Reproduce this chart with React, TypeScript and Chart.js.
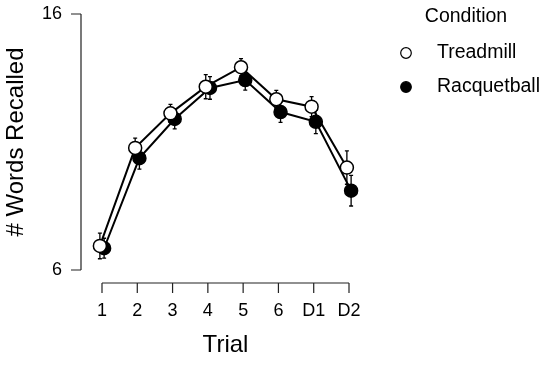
import React, { useEffect, useRef } from 'react';
import { Chart, registerables } from 'chart.js';

Chart.register(...registerables);

const trials = ['1', '2', '3', '4', '5', '6', 'D1', 'D2'];
const treadmill = [6.94, 10.77, 12.12, 13.16, 13.92, 12.67, 12.38, 10.0];
const treadmillErr = [0.5, 0.38, 0.35, 0.47, 0.34, 0.35, 0.39, 0.65];
const racquetball = [6.85, 10.37, 11.9, 13.11, 13.42, 12.17, 11.79, 9.1];
const racquetballErr = [0.39, 0.43, 0.39, 0.44, 0.39, 0.4, 0.46, 0.6];
const yTicks = [6, 16];
const seriesNames = ['Treadmill', 'Racquetball'];
const legendTitle = 'Condition';
const xTitle = 'Trial';
const yTitle = '# Words Recalled';
const dodge = 0.06;

const FONT = "'Liberation Sans', Arial, sans-serif";

const errorBarPlugin = {
  id: 'errorBars',
  beforeDatasetsDraw(chart: any) {
    const ctx = chart.ctx;
    const xs = chart.scales.x;
    const ys = chart.scales.y;
    const errs = [treadmillErr, racquetballErr];
    const vals = [treadmill, racquetball];
    const offs = [-dodge, dodge];
    ctx.save();
    ctx.strokeStyle = '#000';
    ctx.lineWidth = 1.3;
    for (let s = 0; s < 2; s++) {
      for (let i = 0; i < trials.length; i++) {
        const x = xs.getPixelForValue(i + 1 + offs[s]);
        const yt = ys.getPixelForValue(vals[s][i] + errs[s][i]);
        const yb = ys.getPixelForValue(vals[s][i] - errs[s][i]);
        ctx.beginPath();
        ctx.moveTo(x, yt);
        ctx.lineTo(x, yb);
        ctx.moveTo(x - 2, yt);
        ctx.lineTo(x + 2, yt);
        ctx.moveTo(x - 2, yb);
        ctx.lineTo(x + 2, yb);
        ctx.stroke();
      }
    }
    ctx.restore();
  },
};

const axesPlugin = {
  id: 'rAxes',
  afterDraw(chart: any) {
    const ctx = chart.ctx;
    const xs = chart.scales.x;
    const ys = chart.scales.y;
    const ca = chart.chartArea;
    ctx.save();
    ctx.strokeStyle = '#222';
    ctx.lineWidth = 1.2;
    // y axis
    const ax = ca.left - 21;
    const y0 = ys.getPixelForValue(yTicks[0]);
    const y1 = ys.getPixelForValue(yTicks[yTicks.length - 1]);
    ctx.beginPath();
    ctx.moveTo(ax, y0);
    ctx.lineTo(ax, y1);
    yTicks.forEach((v) => {
      const p = ys.getPixelForValue(v);
      ctx.moveTo(ax - 10, p);
      ctx.lineTo(ax, p);
    });
    ctx.stroke();
    // x axis
    const ay = ca.bottom + 13;
    const x0 = xs.getPixelForValue(1);
    const x1 = xs.getPixelForValue(trials.length);
    ctx.beginPath();
    ctx.moveTo(x0, ay);
    ctx.lineTo(x1, ay);
    trials.forEach((_, i) => {
      const p = xs.getPixelForValue(i + 1);
      ctx.moveTo(p, ay);
      ctx.lineTo(p, ay + 10);
    });
    ctx.stroke();
    ctx.restore();
  },
};

const legendPlugin = {
  id: 'rLegend',
  afterDraw(chart: any) {
    const ctx = chart.ctx;
    ctx.save();
    ctx.fillStyle = '#000';
    ctx.font = `19.5px ${FONT}`;
    ctx.textBaseline = 'middle';
    ctx.textAlign = 'center';
    ctx.fillText(legendTitle, 466, 17);
    ctx.textAlign = 'left';
    const rows = [53, 87];
    seriesNames.forEach((name, i) => {
      ctx.beginPath();
      ctx.arc(406, rows[i], 5.3, 0, Math.PI * 2);
      ctx.fillStyle = i === 0 ? '#fff' : '#000';
      ctx.fill();
      ctx.lineWidth = 1.2;
      ctx.strokeStyle = '#000';
      ctx.stroke();
      ctx.fillStyle = '#000';
      ctx.fillText(name, 437, rows[i]);
    });
    ctx.restore();
  },
};

export default function App() {
  const ref = useRef<HTMLCanvasElement | null>(null);

  useEffect(() => {
    if (!ref.current) return;
    const chart = new Chart(ref.current, {
      type: 'line',
      data: {
        datasets: [
          {
            label: seriesNames[0],
            data: treadmill.map((v, i) => ({ x: i + 1 - dodge, y: v })),
            borderColor: '#000',
            borderWidth: 2,
            pointRadius: 6.5,
            pointBackgroundColor: '#fff',
            pointBorderColor: '#000',
            pointBorderWidth: 1.5,
            tension: 0,
            clip: false,
          },
          {
            label: seriesNames[1],
            data: racquetball.map((v, i) => ({ x: i + 1 + dodge, y: v })),
            borderColor: '#000',
            borderWidth: 2,
            pointRadius: 6.5,
            pointBackgroundColor: '#000',
            pointBorderColor: '#000',
            pointBorderWidth: 1.5,
            tension: 0,
            clip: false,
          },
        ],
      },
      options: {
        animation: false,
        responsive: false,
        devicePixelRatio: 1,
        layout: { padding: { top: 14, right: 201, bottom: 0, left: 0 } },
        plugins: { legend: { display: false }, tooltip: { enabled: false } },
        scales: {
          x: {
            type: 'linear',
            min: 1,
            max: trials.length,
            afterBuildTicks: (s: any) => {
              s.ticks = trials.map((_, i) => ({ value: i + 1 }));
            },
            afterFit: (s: any) => {
              s.height = 96;
              s.paddingLeft = 0;
              s.paddingRight = 0;
            },
            ticks: {
              autoSkip: false,
              maxRotation: 0,
              padding: 30,
              color: '#000',
              font: { family: FONT, size: 18 },
              callback: (v: any) => trials[Math.round(v) - 1] ?? '',
            },
            grid: { display: false, drawTicks: false },
            border: { display: false },
            title: {
              display: true,
              text: xTitle,
              color: '#000',
              font: { family: FONT, size: 24 },
              padding: { top: 0, bottom: 6 },
            },
          },
          y: {
            type: 'linear',
            min: yTicks[0],
            max: yTicks[yTicks.length - 1],
            afterBuildTicks: (s: any) => {
              s.ticks = yTicks.map((v) => ({ value: v }));
            },
            afterFit: (s: any) => {
              s.width = 102;
              s.paddingTop = 0;
              s.paddingBottom = 0;
            },
            ticks: {
              padding: 40,
              color: '#000',
              font: { family: FONT, size: 18 },
            },
            grid: { display: false, drawTicks: false },
            border: { display: false },
            title: {
              display: true,
              text: yTitle,
              color: '#000',
              font: { family: FONT, size: 24 },
              padding: { top: 2.3, bottom: 0 },
            },
          },
        },
      },
      plugins: [errorBarPlugin, axesPlugin, legendPlugin],
    } as any);
    return () => chart.destroy();
  }, []);

  return (
    <div style={{ position: 'absolute', left: 0, top: 0, width: 550, height: 366, background: '#fff' }}>
      <canvas ref={ref} width={550} height={366} />
    </div>
  );
}
